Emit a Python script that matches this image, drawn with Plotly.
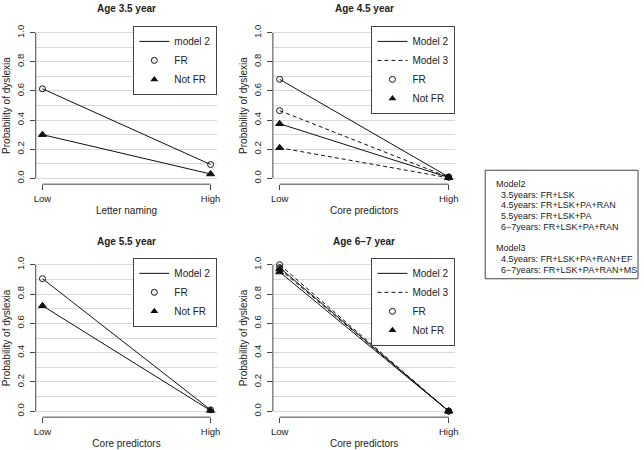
import plotly.graph_objects as go

# ---------------- data ----------------
categories = ["Low", "High"]

age35_m2_fr = [0.615, 0.095]
age35_m2_notfr = [0.300, 0.030]

age45_m2_fr = [0.680, 0.010]
age45_m2_notfr = [0.375, 0.006]
age45_m3_fr = [0.465, 0.008]
age45_m3_notfr = [0.210, 0.004]

age55_m2_fr = [0.905, 0.010]
age55_m2_notfr = [0.720, 0.005]

age67_m2_fr = [0.980, 0.001]
age67_m2_notfr = [0.950, 0.001]
age67_m3_fr = [1.000, 0.001]
age67_m3_notfr = [0.970, 0.001]

panel_titles = ["Age 3.5 year", "Age 4.5 year", "Age 5.5 year", "Age 6\u22127 year"]
x_titles = ["Letter naming", "Core predictors", "Core predictors", "Core predictors"]
y_title = "Probability of dyslexia"

box_lines = [
    "Model2",
    "\u00a0\u00a03.5years: FR+LSK",
    "\u00a0\u00a04.5years: FR+LSK+PA+RAN",
    "\u00a0\u00a05.5years: FR+LSK+PA",
    "\u00a0\u00a06\u22127years: FR+LSK+PA+RAN",
    "",
    "Model3",
    "\u00a0\u00a04.5years: FR+LSK+PA+RAN+EF",
    "\u00a0\u00a06\u22127years: FR+LSK+PA+RAN+MS",
]

# panel series: (model label, FR values, Not FR values)
panels = [
    [("model 2", age35_m2_fr, age35_m2_notfr)],
    [("Model 2", age45_m2_fr, age45_m2_notfr), ("Model 3", age45_m3_fr, age45_m3_notfr)],
    [("Model 2", age55_m2_fr, age55_m2_notfr)],
    [("Model 2", age67_m2_fr, age67_m2_notfr), ("Model 3", age67_m3_fr, age67_m3_notfr)],
]

# ---------------- layout geometry (pixels) ----------------
W, H = 644, 450
col_px = [(34, 217), (273, 457)]
row_px = [(25, 183), (258, 417)]
title_y_px = [7, 241]

def px_x(p):
    return p / W

def px_y(p):
    return 1 - p / H

TXT = "#222222"
AX = "#444444"
GRID = "#d9d9d9"
FONT = "Liberation Sans, Arial, sans-serif"

fig = go.Figure()
layout = dict(
    width=W, height=H, autosize=False,
    margin=dict(l=0, r=0, t=0, b=0),
    paper_bgcolor="white", plot_bgcolor="white",
    font=dict(family=FONT, color=TXT, size=10),
    showlegend=True,
)
annotations = []
shapes = []

for i, series in enumerate(panels):
    r, c = divmod(i, 2)
    n = i + 1
    xa = "x" if n == 1 else f"x{n}"
    ya = "y" if n == 1 else f"y{n}"
    xkey = "xaxis" if n == 1 else f"xaxis{n}"
    ykey = "yaxis" if n == 1 else f"yaxis{n}"
    lg = "legend" if n == 1 else f"legend{n}"

    x0p, x1p = col_px[c]
    y0p, y1p = row_px[r]

    layout[xkey] = dict(
        domain=[px_x(x0p), px_x(x1p)], anchor=ya, type="category",
        range=[-0.04, len(categories) - 1 + 0.04],
        showline=False, showgrid=False, zeroline=False,
        ticks="outside", ticklen=5, tickwidth=1, tickcolor=AX,
        tickfont=dict(size=9.5, color=TXT),
        title=dict(text=x_titles[i], font=dict(size=10, color=TXT), standoff=4),
    )
    layout[ykey] = dict(
        domain=[px_y(y1p), px_y(y0p)], anchor=xa,
        range=[-0.04, 1.04],
        showline=False, zeroline=False,
        tickmode="linear", tick0=0, dtick=0.2, tickformat=".1f",
        ticks="outside", ticklen=5, tickwidth=1, tickcolor=AX,
        tickangle=-90, ticklabelstandoff=2,
        tickfont=dict(size=9.5, color=TXT),
        showgrid=True, gridcolor=GRID, gridwidth=1,
        minor=dict(dtick=0.1, tick0=0, showgrid=True, gridcolor=GRID, gridwidth=1, ticks=""),
        title=dict(text=y_title, font=dict(size=10, color=TXT), standoff=2),
    )

    # axis lines spanning first..last tick, as R draws them
    shapes.append(dict(type="line", xref=xa, yref=f"{ya} domain",
                       x0=0, x1=len(categories) - 1, y0=0, y1=0,
                       line=dict(color=AX, width=1)))
    shapes.append(dict(type="line", xref=f"{xa} domain", yref=ya,
                       x0=0, x1=0, y0=0, y1=1,
                       line=dict(color=AX, width=1)))

    # data
    for model, fr, notfr in series:
        dash = "solid" if model.lower() == "model 2" else "4px,3px"
        for vals, sym, size in ((fr, "circle-open", 6), (notfr, "triangle-up", 7)):
            fig.add_trace(go.Scatter(
                x=categories, y=vals, xaxis=xa, yaxis=ya,
                mode="lines+markers", cliponaxis=False, showlegend=False,
                line=dict(color="#111111", width=1, dash=dash),
                marker=dict(symbol=sym, size=size, color="#111111",
                            line=dict(color="#111111", width=1)),
                hoverinfo="skip",
            ))

    # legend entries
    for model, _, _ in series:
        dash = "solid" if model.lower() == "model 2" else "4px,3px"
        fig.add_trace(go.Scatter(
            x=[None], y=[None], xaxis=xa, yaxis=ya, mode="lines", name=model,
            line=dict(color="#111111", width=1, dash=dash), legend=lg,
        ))
    fig.add_trace(go.Scatter(
        x=[None], y=[None], xaxis=xa, yaxis=ya, mode="markers", name="FR",
        marker=dict(symbol="circle-open", size=6, color="#111111", line=dict(width=1)),
        legend=lg,
    ))
    fig.add_trace(go.Scatter(
        x=[None], y=[None], xaxis=xa, yaxis=ya, mode="markers", name="Not FR",
        marker=dict(symbol="triangle-up", size=7, color="#111111"),
        legend=lg,
    ))
    layout[lg] = dict(
        x=px_x(x1p), y=px_y(y0p - 1), xanchor="right", yanchor="top",
        bgcolor="white", bordercolor=AX, borderwidth=1,
        font=dict(size=10, color=TXT), itemwidth=30,
        tracegroupgap=0, itemclick=False, itemdoubleclick=False,
    )

    # panel title
    annotations.append(dict(
        text=f"<b>{panel_titles[i]}</b>", xref="paper", yref="paper",
        x=px_x((x0p + x1p) / 2), y=px_y(title_y_px[r]),
        xanchor="center", yanchor="middle", showarrow=False,
        font=dict(size=10, color=TXT),
    ))

# right-hand description box
box_left, box_top, box_right, box_bottom = 487, 169, 641, 278
shapes.append(dict(type="rect", xref="paper", yref="paper",
                   x0=px_x(box_left), x1=px_x(box_right),
                   y0=px_y(box_bottom), y1=px_y(box_top),
                   line=dict(color=AX, width=1), fillcolor="white"))
for k, line in enumerate(box_lines):
    if not line:
        continue
    annotations.append(dict(
        text=line, xref="paper", yref="paper",
        x=px_x(495.5), y=px_y(182.7 + k * 10.8),
        xanchor="left", yanchor="middle", showarrow=False,
        font=dict(size=9, color=TXT),
    ))

layout["annotations"] = annotations
layout["shapes"] = shapes
fig.update_layout(**layout)
fig.write_html(
    "out.html",
    config={"displayModeBar": False, "staticPlot": True},
    post_script="document.body.style.margin='0';document.body.style.padding='0';",
)
